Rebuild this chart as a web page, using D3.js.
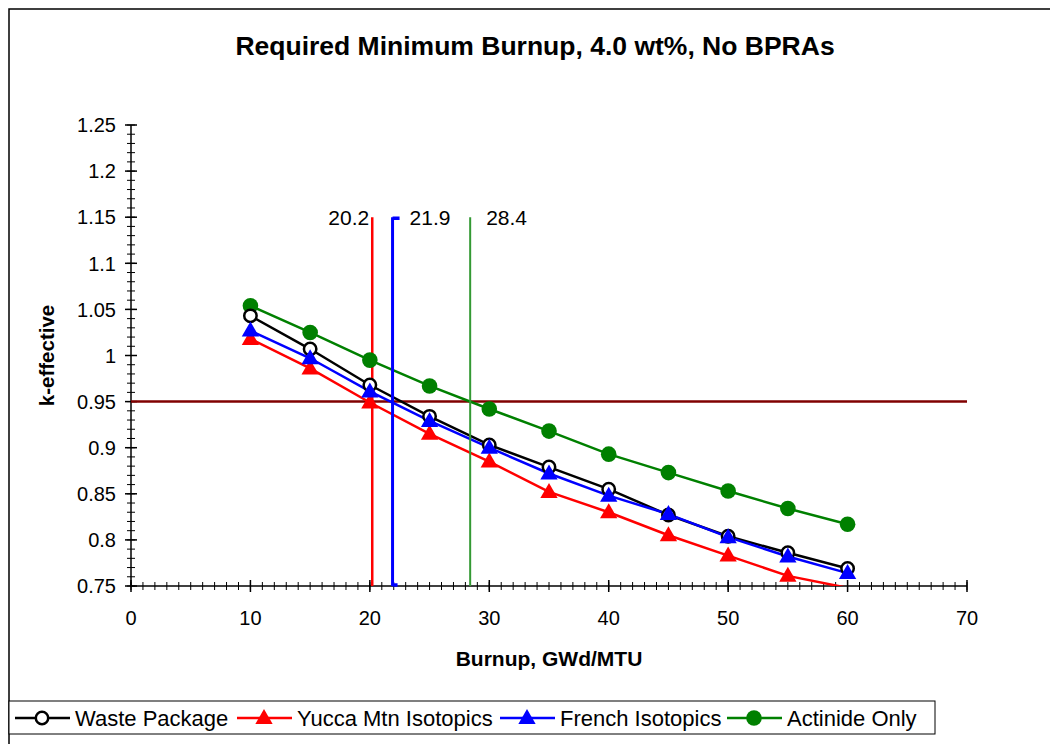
<!DOCTYPE html>
<html>
<head>
<meta charset="utf-8">
<script src="https://cdn.jsdelivr.net/npm/d3@7/dist/d3.min.js"></script>
<style>
  body { margin: 0; background: #fff; }
  svg { display: block; font-family: 'Liberation Sans', Arial, sans-serif; }
</style>
</head>
<body>
<svg id="chart" width="1050" height="744"></svg>
<script>
// burnup points (GWd/MTU)
const burnup = [10, 15, 20, 25, 30, 35, 40, 45, 50, 55, 60];
// k-effective series
const wastePackage = [1.043, 1.007, 0.968, 0.934, 0.903, 0.879, 0.855, 0.827, 0.804, 0.786, 0.769];
const yuccaMtn = [1.018, 0.986, 0.949, 0.915, 0.885, 0.852, 0.830, 0.805, 0.783, 0.761, 0.748];
const french = [1.027, 0.997, 0.961, 0.929, 0.900, 0.872, 0.848, 0.828, 0.803, 0.782, 0.764];
const actinide = [1.054, 1.025, 0.995, 0.967, 0.942, 0.918, 0.893, 0.873, 0.853, 0.834, 0.817];
// required burnup markers
const requiredBurnup = [20.2, 21.9, 28.4];
const limitK = 0.95;
const xTicks = [0, 10, 20, 30, 40, 50, 60, 70];
const yTicks = [0.75, 0.8, 0.85, 0.9, 0.95, 1, 1.05, 1.1, 1.15, 1.2, 1.25];

const svg = d3.select('#chart');
const margin = { top: 125, right: 83, bottom: 158, left: 131 };
const width = 1050 - margin.left - margin.right;
const height = 744 - margin.top - margin.bottom;

const x = d3.scaleLinear().domain([0, 70]).range([margin.left, margin.left + width]);
const y = d3.scaleLinear().domain([0.75, 1.25]).range([margin.top + height, margin.top]);

// outer chart frame (no right/bottom edge visible)
svg.append('rect')
  .attr('x', 9).attr('y', 9)
  .attr('width', 1200).attr('height', 900)
  .attr('fill', 'none')
  .attr('stroke', '#000')
  .attr('stroke-width', 1.5);

// title
svg.append('text')
  .attr('x', 535).attr('y', 55)
  .attr('text-anchor', 'middle')
  .style('font-size', '26.5px')
  .style('font-weight', 'bold')
  .text('Required Minimum Burnup, 4.0 wt%, No BPRAs');

svg.append('defs').append('clipPath')
  .attr('id', 'plot-clip')
  .append('rect')
  .attr('x', margin.left).attr('y', margin.top)
  .attr('width', width).attr('height', height);

// minor ticks drawn as crossing ticks, like the excel axis
const yMinor = d3.range(75, 126).map(d => d / 100);
const xMinor = d3.range(0, 71);

const axes = svg.append('g');
axes.selectAll('.ymin').data(yMinor).enter().append('line')
  .attr('x1', margin.left - 4).attr('x2', margin.left + 4)
  .attr('y1', d => y(d)).attr('y2', d => y(d))
  .attr('stroke', '#000').attr('stroke-width', 1);
axes.selectAll('.ymaj').data(yTicks).enter().append('line')
  .attr('x1', margin.left - 6).attr('x2', margin.left + 6)
  .attr('y1', d => y(d)).attr('y2', d => y(d))
  .attr('stroke', '#000').attr('stroke-width', 1.5);
axes.selectAll('.xmin').data(xMinor).enter().append('line')
  .attr('y1', margin.top + height - 4).attr('y2', margin.top + height + 4)
  .attr('x1', d => x(d)).attr('x2', d => x(d))
  .attr('stroke', '#000').attr('stroke-width', 1);
axes.selectAll('.xmaj').data(xTicks).enter().append('line')
  .attr('y1', margin.top + height - 6).attr('y2', margin.top + height + 6)
  .attr('x1', d => x(d)).attr('x2', d => x(d))
  .attr('stroke', '#000').attr('stroke-width', 1.5);
axes.append('line')
  .attr('x1', margin.left).attr('x2', margin.left)
  .attr('y1', margin.top).attr('y2', margin.top + height)
  .attr('stroke', '#000').attr('stroke-width', 1.5);
axes.append('line')
  .attr('x1', margin.left).attr('x2', margin.left + width)
  .attr('y1', margin.top + height).attr('y2', margin.top + height)
  .attr('stroke', '#000').attr('stroke-width', 1.5);

// tick labels
axes.selectAll('.ylab').data(yTicks).enter().append('text')
  .attr('x', 116).attr('y', d => y(d))
  .attr('dy', '0.36em')
  .attr('text-anchor', 'end')
  .style('font-size', '20px')
  .text(d => d3.format('')(d));
axes.selectAll('.xlab').data(xTicks).enter().append('text')
  .attr('x', d => x(d)).attr('y', 625)
  .attr('text-anchor', 'middle')
  .style('font-size', '20px')
  .text(d => d);

// axis titles
svg.append('text')
  .attr('x', margin.left + width / 2).attr('y', 666)
  .attr('text-anchor', 'middle')
  .style('font-size', '21px').style('font-weight', 'bold')
  .text('Burnup, GWd/MTU');
svg.append('text')
  .attr('transform', `translate(54,${margin.top + height / 2})rotate(-90)`)
  .attr('text-anchor', 'middle')
  .style('font-size', '20.5px').style('font-weight', 'bold')
  .text('k-effective');

const plot = svg.append('g').attr('clip-path', 'url(#plot-clip)');

// 0.95 limit line
plot.append('line')
  .attr('x1', x(0)).attr('x2', x(70))
  .attr('y1', y(limitK)).attr('y2', y(limitK))
  .attr('stroke', '#800000').attr('stroke-width', 2.5);

// required burnup verticals
const vColors = ['#ff0000', '#0000ff', '#339933'];
const vWidths = [2.5, 3, 2];
requiredBurnup.forEach((b, i) => {
  svg.append('line')
    .attr('x1', x(b)).attr('x2', x(b))
    .attr('y1', y(1.15)).attr('y2', y(0.75))
    .attr('stroke', vColors[i]).attr('stroke-width', vWidths[i]);
});
// little hooks at the ends of the blue line
svg.append('path')
  .attr('d', `M${x(requiredBurnup[1])},${y(1.15) + 1}h7 M${x(requiredBurnup[1])},${y(0.75) - 1}h5`)
  .attr('stroke', '#0000ff').attr('stroke-width', 3.5).attr('fill', 'none');

const labels = svg.append('g').style('font-size', '21px');
labels.append('text').attr('x', x(requiredBurnup[0]) - 3).attr('y', 225)
  .attr('text-anchor', 'end').text(requiredBurnup[0]);
labels.append('text').attr('x', x(requiredBurnup[1]) + 17).attr('y', 225)
  .text(requiredBurnup[1]);
labels.append('text').attr('x', x(requiredBurnup[2]) + 16).attr('y', 225)
  .text(requiredBurnup[2]);

const series = [
  { name: 'Waste Package', values: wastePackage, color: '#000', marker: 'circle-open' },
  { name: 'Yucca Mtn Isotopics', values: yuccaMtn, color: '#ff0000', marker: 'triangle' },
  { name: 'French Isotopics', values: french, color: '#0000ff', marker: 'triangle' },
  { name: 'Actinide Only', values: actinide, color: '#008000', marker: 'circle' },
];

const line = d3.line().x(d => x(d[0])).y(d => y(d[1]));
const triangle = d3.symbol().type(d3.symbolTriangle).size(130);

function drawMarker(g, s, cx, cy) {
  if (s.marker === 'triangle') {
    g.append('path')
      .attr('d', triangle())
      .attr('transform', `translate(${cx},${cy + 1})`)
      .attr('fill', s.color);
  } else if (s.marker === 'circle') {
    g.append('circle').attr('cx', cx).attr('cy', cy).attr('r', 7.8).attr('fill', s.color);
  } else {
    g.append('circle').attr('cx', cx).attr('cy', cy).attr('r', 6.2)
      .attr('fill', '#fff').attr('stroke', s.color).attr('stroke-width', 2.5);
  }
}

// draw back to front so black circles sit under blue triangles
[series[3], series[0], series[1], series[2]].forEach((s) => {
  const pts = burnup.map((b, i) => [b, s.values[i]]);
  plot.append('path')
    .datum(pts)
    .attr('d', line)
    .attr('fill', 'none')
    .attr('stroke', s.color)
    .attr('stroke-width', 2.5);
  const g = svg.append('g');
  pts.filter(p => p[1] >= 0.75).forEach((p) => drawMarker(g, s, x(p[0]), y(p[1])));
});

// legend
const legend = svg.append('g');
legend.append('rect')
  .attr('x', 9).attr('y', 701).attr('width', 926).attr('height', 33)
  .attr('fill', '#fff').attr('stroke', '#000').attr('stroke-width', 1);
const legendX = [15, 237, 500, 727];
series.forEach((s, i) => {
  const lx = legendX[i];
  legend.append('line')
    .attr('x1', lx).attr('x2', lx + 55)
    .attr('y1', 718).attr('y2', 718)
    .attr('stroke', s.color).attr('stroke-width', 2.5);
  drawMarker(legend, s, lx + 27, 718);
  legend.append('text')
    .attr('x', lx + 60).attr('y', 725.5)
    .style('font-size', '22px')
    .text(s.name);
});
</script>
</body>
</html>
